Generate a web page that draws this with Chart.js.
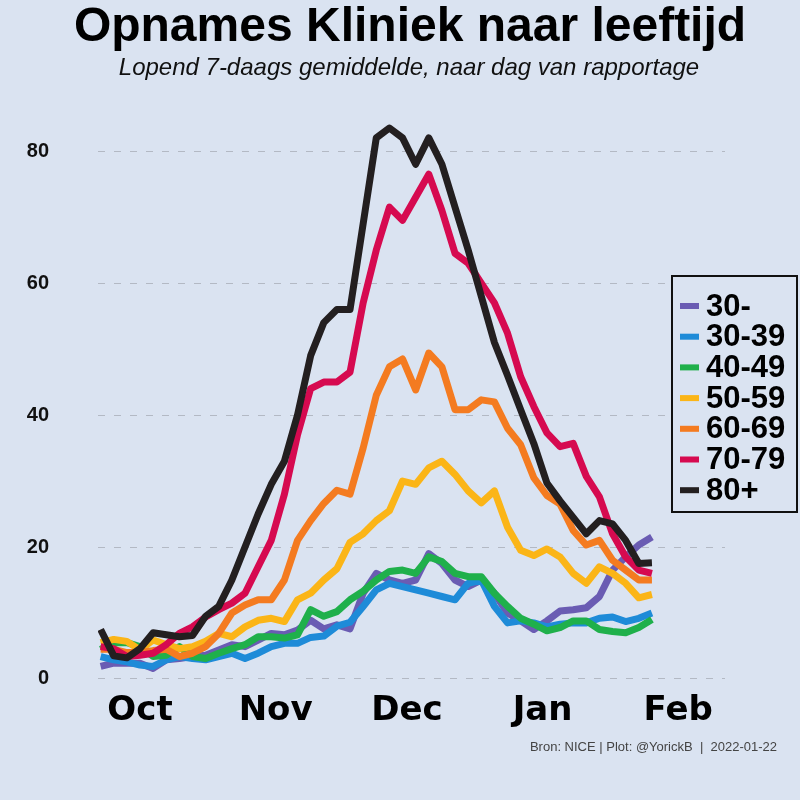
<!DOCTYPE html>
<html>
<head>
<meta charset="utf-8">
<script src="https://cdn.jsdelivr.net/npm/chart.js@4.4.1/dist/chart.umd.min.js"></script>
<style>
html, body { margin: 0; padding: 0; background: #dae3f1; }
#wrap { width: 800px; height: 800px; }
</style>
</head>
<body>
<div id="wrap"><canvas id="grafiek" width="800" height="800"></canvas></div>
<script>
var dagen = [-9, -6, -3, 0, 3, 6, 9, 12, 15, 18, 21, 24, 27, 30, 33, 36, 39, 42, 45, 48, 51, 54,
    57, 60, 63, 66, 69, 72, 75, 78, 81, 84, 87, 90, 93, 96, 99, 102, 105, 108, 111, 114, 117];
var maandTicks = [0, 31, 61, 92, 123];
var maandLabels = ["Oct", "Nov", "Dec", "Jan", "Feb"];
var yTicks = [0, 20, 40, 60, 80];

var leeftijden = ["30-", "30-39", "40-49", "50-59", "60-69", "70-79", "80+"];
var kleuren = ["#6a5cb3", "#1e8bd8", "#1fb04b", "#fbb517", "#f47b20", "#d60a50", "#231f20"];

var opn30min = [1.9, 2.4, 2.4, 2.4, 1.6, 2.9, 3.1, 3.4, 3.6, 4.4, 5.2, 4.9, 5.9, 6.9, 6.7, 7.4, 8.9, 7.6, 8.2, 7.6, 13, 16,
    15, 14.5, 15, 19, 17.5, 15, 14, 15, 13, 10, 8.8, 7.5, 8.8, 10.3, 10.5, 10.8, 12.5, 16.5, 18.5, 20.3, 21.5];
var opn30 = [3.4, 2.9, 2.6, 2.1, 1.9, 2.9, 3.4, 3.1, 2.9, 3.4, 3.9, 3.1, 3.9, 4.9, 5.4, 5.4, 6.3, 6.5, 8, 8.6, 11, 13.5,
    14.5, 14, 13.5, 13, 12.5, 12, 14.5, 15, 11, 8.5, 8.8, 8.5, 7.9, 8.3, 8.5, 8.5, 9.2, 9.4, 8.7, 9.2, 10];
var opn40 = [4.5, 5.5, 5.5, 4.9, 3.4, 3.6, 4.9, 3.4, 3.1, 3.9, 4.6, 5.2, 6.4, 6.4, 6.2, 6.7, 10.5, 9.5, 10.2, 12, 13.3, 15,
    16.3, 16.5, 16, 18.5, 17.8, 16, 15.5, 15.5, 13, 11, 9.2, 8.3, 7.3, 7.8, 8.8, 8.8, 7.5, 7.2, 7, 7.8, 9];
var opn50 = [5.5, 6, 5.7, 4.4, 5.9, 5.2, 4.6, 4.9, 5.7, 6.9, 6.4, 7.9, 8.9, 9.2, 8.7, 12, 13, 15, 16.7, 20.7, 22, 24,
    25.5, 30, 29.5, 32, 33, 31, 28.5, 26.7, 28.5, 23, 19.5, 18.7, 19.7, 18.5, 16, 14.5, 17, 16, 14.5, 12.3, 12.8];
var opn60 = [4.5, 4.5, 4, 4, 4.3, 4.5, 3.4, 3.9, 4.9, 6.9, 10, 11.2, 12, 12, 15, 21, 24, 26.6, 28.6, 28, 35, 43,
    47.3, 48.5, 43.8, 49.4, 47.3, 40.8, 40.8, 42.3, 42, 38, 35.5, 30.5, 27.8, 26.5, 22.5, 20.3, 21, 18, 16.5, 15, 15];
var opn70 = [4.9, 4.6, 3.4, 3.6, 3.9, 5.2, 6.9, 7.9, 9.4, 10.5, 11.5, 13, 17, 21, 28, 37, 44, 45, 45, 46.5, 57, 65,
    71.5, 69.5, 73, 76.5, 71, 64.5, 63, 60, 57, 52.4, 45.8, 41.3, 37.3, 35.2, 35.7, 30.7, 27.6, 22, 18.5, 16.5, 16];
var opn80 = [7.5, 3.5, 3.2, 4.6, 7, 6.7, 6.4, 6.6, 9.5, 11, 15, 20, 25, 29.5, 33, 40, 49, 54, 56, 56, 69, 82,
    83.5, 82, 78, 82, 78, 71.5, 65, 58, 51, 46, 40.8, 35.7, 29.7, 27, 24.5, 22, 24, 23.5, 21, 17.5, 17.6];

var reeksen = [opn30min, opn30, opn40, opn50, opn60, opn70, opn80];

var achtergrond = "#dae3f1";

var datasets = reeksen.map(function (reeks, i) {
    return {
        label: leeftijden[i],
        data: dagen.map(function (d, j) { return { x: d, y: reeks[j] }; }),
        borderColor: kleuren[i],
        backgroundColor: kleuren[i],
        borderWidth: 7,
        pointRadius: 0,
        tension: 0,
        borderJoinStyle: "round",
        order: reeksen.length - i
    };
});

var opmaak = {
    id: "opmaak",
    beforeDraw: function (chart) {
        var c = chart.ctx;
        c.save();
        c.fillStyle = achtergrond;
        c.fillRect(0, 0, chart.width, chart.height);
        c.fillStyle = "#000";
        c.textAlign = "center";
        c.textBaseline = "middle";
        c.font = "bold 48px 'Liberation Sans', Arial, sans-serif";
        c.fillText("Opnames Kliniek naar leeftijd", 410, 28);
        c.font = "italic 24px 'Liberation Sans', Arial, sans-serif";
        c.fillStyle = "#111";
        c.fillText("Lopend 7-daags gemiddelde, naar dag van rapportage", 409, 68);
        c.font = "13px 'Liberation Sans', Arial, sans-serif";
        c.fillStyle = "#444";
        c.textAlign = "right";
        c.fillText("Bron: NICE | Plot: @YorickB  |  2022-01-22", 777, 747);
        c.restore();
    },
    afterDraw: function (chart) {
        var c = chart.ctx;
        c.save();
        c.fillStyle = achtergrond;
        c.fillRect(672, 276, 125, 236);
        c.strokeStyle = "#111";
        c.lineWidth = 2;
        c.strokeRect(672, 276, 125, 236);
        c.font = "bold 31px 'Liberation Sans', Arial, sans-serif";
        c.textAlign = "left";
        c.textBaseline = "middle";
        leeftijden.forEach(function (lbl, i) {
            var y = 306 + i * 30.7;
            c.fillStyle = kleuren[i];
            c.fillRect(680, y - 3, 19, 6);
            c.fillStyle = "#000";
            c.fillText(lbl, 706, y + 1);
        });
        c.restore();
    }
};

new Chart(document.getElementById("grafiek"), {
    type: "line",
    data: { datasets: datasets },
    options: {
        responsive: false,
        animation: false,
        layout: { padding: { top: 95, right: 75, bottom: 50, left: 0 } },
        plugins: {
            legend: { display: false },
            tooltip: { enabled: false }
        },
        scales: {
            x: {
                type: "linear",
                min: -9.6,
                max: 133.7,
                afterFit: function (s) { s.height = 60; },
                afterBuildTicks: function (s) {
                    s.ticks = maandTicks.map(function (v) { return { value: v }; });
                },
                grid: { display: false, drawTicks: false },
                border: { display: false },
                ticks: {
                    autoSkip: false,
                    maxRotation: 0,
                    padding: 4,
                    color: "#000",
                    font: { family: "'DejaVu Sans', sans-serif", size: 34, weight: "bold", lineHeight: 1 },
                    callback: function (v) {
                        var i = maandTicks.indexOf(v);
                        return i >= 0 ? maandLabels[i] : "";
                    }
                }
            },
            y: {
                min: -1.67,
                max: 88.5,
                afterFit: function (s) { s.width = 98; },
                afterBuildTicks: function (s) {
                    s.ticks = yTicks.map(function (v) { return { value: v }; });
                },
                grid: { color: "#b3b9c4", lineWidth: 1, drawTicks: false },
                border: { display: false, dash: [7, 9] },
                ticks: {
                    padding: 49,
                    color: "#111",
                    font: { family: "'Liberation Sans', Arial, sans-serif", size: 20, weight: "bold" }
                }
            }
        }
    },
    plugins: [opmaak]
});
</script>
</body>
</html>
